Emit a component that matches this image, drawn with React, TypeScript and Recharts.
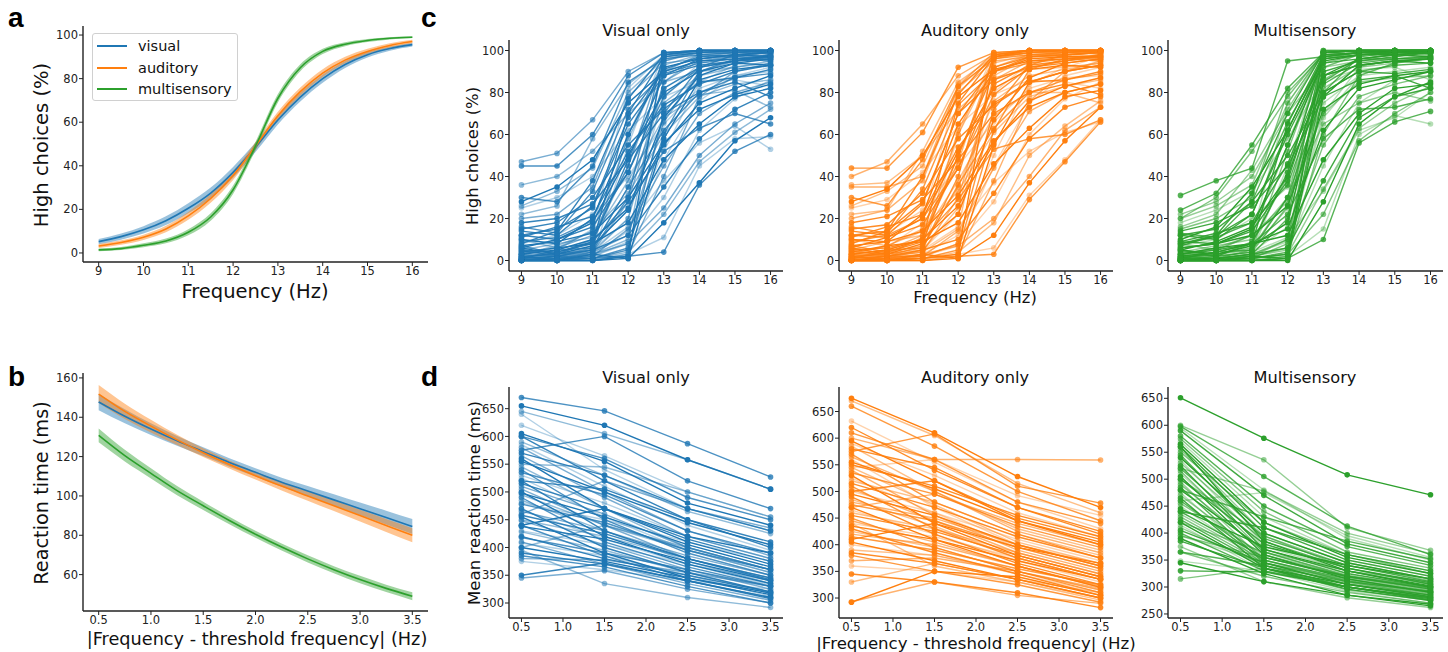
import React from "react";
import { ComposedChart, LineChart, Line, Area, XAxis, YAxis } from "recharts";

const FONT = '"DejaVu Sans", sans-serif';
const BLUE = "#1f77b4";
const ORANGE = "#ff7f0e";
const GREEN = "#2ca02c";
const INK = "#222";

// ---- panel a: fitted psychometric curves (mean + band half-width)
const freqFine = [9, 9.5, 10, 10.5, 11, 11.5, 12, 12.5, 13, 13.5, 14, 14.5, 15, 15.5, 16];
const psyVisual = [5.2, 7.5, 10.6, 14.8, 20.5, 27.5, 37, 48.5, 61, 71.5, 80, 86.5, 91, 93.8, 95.6];
const psyVisualErr = [1.2, 1.4, 1.7, 2.0, 2.3, 2.5, 2.5, 2.2, 2.0, 2.0, 1.9, 1.6, 1.3, 1.0, 0.9];
const psyAuditory = [3.2, 4.8, 7.2, 11, 17, 25, 35.5, 49, 63, 74, 82.5, 88.5, 92.5, 95.2, 97];
const psyAuditoryErr = [0.9, 1.0, 1.2, 1.5, 1.8, 2.0, 2.0, 1.8, 1.8, 1.9, 1.8, 1.5, 1.2, 1.0, 0.8];
const psyMulti = [1.4, 2.0, 3.5, 5.5, 9.5, 16.5, 29, 49, 71, 85, 92.5, 95.8, 97.5, 98.5, 99];
const psyMultiErr = [0.6, 0.7, 0.9, 1.1, 1.4, 1.7, 1.9, 1.9, 1.9, 1.6, 1.2, 0.9, 0.7, 0.5, 0.4];
const legendNames = ["visual", "auditory", "multisensory"];

// ---- panel b: fitted reaction time curves
const distFine = [0.5, 0.75, 1, 1.25, 1.5, 1.75, 2, 2.25, 2.5, 2.75, 3, 3.25, 3.5];
const rtVisual = [147.8, 140.5, 134, 128, 122.5, 117, 112, 107, 102.5, 98, 93.5, 89, 84.5];
const rtVisualErr = [4.2, 3.6, 3.0, 2.5, 2.2, 2.1, 2.1, 2.3, 2.6, 2.9, 3.2, 3.5, 3.8];
const rtAuditory = [151.8, 143, 135.5, 128.5, 122, 116, 110.3, 105, 100, 95, 90, 85, 80];
const rtAuditoryErr = [4.6, 3.9, 3.2, 2.6, 2.2, 2.0, 2.0, 2.2, 2.4, 2.7, 3.0, 3.3, 3.6];
const rtMulti = [130.8, 120.5, 111.5, 102.7, 95, 87.5, 80.5, 74, 68, 62.5, 57.5, 53, 49];
const rtMultiErr = [3.5, 3.0, 2.6, 2.3, 2.1, 1.9, 1.8, 1.8, 1.8, 1.8, 1.9, 1.9, 2.0];

// ---- panel c: per-subject high choices (%) at 9..16 Hz
const freqs = [9, 10, 11, 12, 13, 14, 15, 16];
const choiceVisual = [
  [0, 0, 0, 2, 98, 100, 100, 100], [1, 2, 3, 10, 95, 100, 100, 100], [2, 3, 5, 30, 99, 100, 100, 100],
  [0, 1, 2, 55, 99, 100, 100, 99], [5, 4, 8, 70, 97, 99, 100, 100], [3, 6, 12, 45, 90, 98, 97, 99],
  [10, 8, 20, 60, 92, 96, 98, 97], [1, 0, 4, 20, 85, 97, 99, 100], [0, 2, 1, 5, 70, 92, 98, 99],
  [4, 5, 15, 82, 98, 99, 100, 100], [12, 15, 25, 65, 88, 93, 95, 96], [20, 22, 35, 78, 94, 96, 97, 96],
  [6, 10, 18, 50, 80, 90, 94, 93], [2, 3, 6, 35, 75, 88, 92, 95], [30, 28, 45, 85, 96, 98, 99, 99],
  [8, 12, 22, 40, 65, 82, 88, 90], [15, 18, 30, 55, 72, 85, 87, 91], [0, 0, 2, 15, 45, 70, 80, 85],
  [3, 5, 10, 25, 55, 75, 82, 88], [36, 40, 52, 70, 85, 90, 92, 94], [45, 45, 60, 88, 99, 100, 100, 100],
  [25, 30, 40, 62, 78, 85, 86, 83], [1, 2, 5, 12, 35, 58, 72, 80], [0, 1, 3, 8, 25, 50, 65, 75],
  [4, 6, 8, 18, 48, 65, 78, 82], [10, 6, 14, 32, 60, 78, 84, 86], [0, 1, 1, 2, 4, 36, 52, 60],
  [0, 0, 1, 3, 11, 45, 58, 59], [18, 20, 27, 48, 70, 80, 85, 78], [47, 51, 67, 90, 99, 100, 100, 100],
  [28, 35, 48, 75, 90, 95, 96, 97], [5, 8, 11, 38, 68, 79, 81, 73], [7, 3, 9, 28, 52, 63, 70, 65],
  [1, 3, 4, 16, 38, 56, 64, 53], [12, 10, 16, 42, 82, 92, 95, 98], [3, 2, 6, 60, 95, 99, 99, 100],
  [0, 0, 0, 1, 18, 37, 57, 68], [22, 26, 58, 84, 97, 99, 100, 100],
  [0, 0, 1, 6, 60, 90, 96, 98], [2, 1, 3, 14, 52, 85, 93, 97], [1, 4, 9, 48, 88, 96, 98, 99],
  [0, 0, 0, 3, 40, 78, 90, 94], [6, 3, 7, 24, 68, 88, 94, 96], [3, 7, 14, 58, 93, 98, 99, 100],
  [9, 11, 19, 42, 78, 92, 95, 97], [0, 1, 2, 9, 30, 62, 77, 86], [14, 12, 26, 68, 91, 97, 98, 99],
  [5, 2, 4, 28, 85, 95, 97, 98], [2, 0, 3, 1, 58, 86, 91, 93], [26, 33, 44, 80, 96, 99, 99, 100],
  [1, 5, 6, 35, 62, 80, 87, 89], [0, 2, 5, 20, 78, 94, 97, 100], [11, 16, 21, 52, 74, 84, 90, 93],
  [4, 3, 10, 45, 97, 100, 100, 100], [7, 9, 13, 30, 56, 72, 79, 84], [0, 0, 1, 4, 22, 47, 61, 72],
  [16, 13, 33, 72, 89, 94, 96, 95], [3, 1, 2, 8, 48, 76, 88, 92], [8, 14, 38, 77, 98, 100, 100, 100],
  [1, 1, 4, 12, 66, 90, 95, 97],
];
const choiceAuditory = [
  [0, 0, 1, 3, 97, 100, 100, 100], [1, 2, 4, 15, 96, 100, 100, 100], [2, 3, 6, 40, 98, 100, 100, 100],
  [0, 1, 3, 60, 99, 100, 100, 99], [5, 6, 10, 75, 97, 99, 100, 100], [3, 5, 12, 50, 92, 98, 98, 99],
  [10, 9, 22, 65, 90, 96, 97, 97], [1, 1, 5, 25, 88, 97, 99, 100], [0, 2, 2, 8, 72, 93, 98, 99],
  [4, 6, 18, 84, 98, 100, 100, 100], [12, 14, 28, 70, 86, 92, 94, 96], [20, 24, 38, 80, 95, 97, 97, 96],
  [6, 11, 20, 52, 82, 91, 93, 92], [2, 4, 7, 35, 76, 88, 91, 94], [30, 26, 48, 83, 96, 98, 99, 99],
  [8, 13, 24, 45, 66, 82, 87, 88], [15, 17, 32, 58, 74, 85, 86, 90], [0, 0, 2, 14, 44, 71, 80, 84],
  [3, 5, 10, 26, 56, 76, 83, 87], [36, 37, 50, 72, 87, 91, 92, 94], [44, 44, 61, 92, 99, 100, 100, 100],
  [25, 29, 42, 64, 79, 86, 85, 82], [1, 2, 5, 10, 32, 58, 73, 78], [0, 1, 3, 7, 20, 40, 62, 73],
  [4, 7, 9, 18, 46, 63, 78, 81], [10, 7, 15, 33, 61, 78, 83, 86], [0, 1, 1, 2, 3, 29, 47, 66],
  [0, 0, 1, 3, 6, 31, 48, 67], [18, 21, 29, 48, 70, 80, 84, 79], [40, 47, 65, 88, 98, 100, 100, 100],
  [28, 34, 50, 78, 91, 95, 96, 97], [5, 9, 12, 38, 69, 80, 80, 75], [7, 4, 10, 29, 53, 58, 60, 67],
  [1, 3, 5, 16, 37, 52, 61, 66], [12, 11, 17, 44, 84, 93, 95, 98], [3, 2, 7, 62, 96, 99, 99, 100],
  [0, 0, 0, 1, 12, 37, 57, 73], [22, 24, 52, 85, 97, 99, 100, 100],
  [0, 0, 1, 5, 62, 91, 96, 98], [2, 1, 3, 12, 50, 84, 92, 97], [1, 4, 9, 50, 90, 97, 98, 99],
  [0, 0, 0, 2, 38, 76, 90, 95], [6, 3, 8, 22, 67, 87, 94, 96], [3, 7, 14, 60, 94, 98, 99, 100],
  [9, 12, 20, 44, 79, 92, 95, 97], [0, 1, 2, 8, 28, 60, 77, 85], [14, 12, 27, 70, 92, 97, 98, 99],
  [5, 2, 4, 30, 86, 95, 97, 98], [2, 0, 3, 1, 55, 85, 90, 93], [26, 33, 45, 82, 97, 99, 99, 100],
  [1, 5, 6, 36, 63, 80, 86, 89], [0, 2, 5, 22, 80, 94, 97, 100], [11, 16, 22, 54, 75, 85, 90, 93],
  [4, 3, 11, 47, 97, 100, 100, 100], [7, 9, 14, 31, 57, 73, 80, 84], [0, 0, 1, 4, 18, 50, 64, 76],
  [16, 13, 34, 74, 90, 94, 96, 95], [3, 1, 2, 7, 45, 75, 88, 92], [8, 14, 40, 79, 98, 100, 100, 100],
  [35, 35, 40, 83, 99, 100, 100, 100],
];
const choiceMulti = [
  [0, 0, 0, 1, 99, 100, 100, 100], [1, 1, 2, 5, 99, 100, 100, 100], [0, 1, 3, 20, 100, 100, 100, 100],
  [2, 2, 4, 45, 99, 100, 100, 99], [3, 5, 8, 65, 98, 99, 100, 100], [1, 3, 6, 30, 96, 99, 99, 99],
  [6, 8, 15, 55, 95, 98, 98, 97], [0, 0, 2, 10, 92, 98, 99, 100], [0, 1, 1, 3, 85, 96, 98, 99],
  [4, 5, 12, 75, 99, 100, 100, 100], [8, 12, 22, 60, 94, 96, 96, 96], [15, 20, 30, 80, 98, 99, 99, 98],
  [5, 9, 16, 40, 88, 93, 95, 94], [2, 3, 5, 25, 82, 92, 94, 96], [24, 32, 55, 82, 99, 100, 100, 100],
  [7, 10, 20, 35, 75, 88, 90, 92], [12, 15, 28, 50, 80, 90, 89, 91], [0, 0, 1, 8, 55, 78, 84, 88],
  [2, 4, 8, 15, 62, 82, 86, 90], [22, 28, 40, 70, 92, 95, 96, 97], [31, 38, 44, 95, 97, 99, 100, 100],
  [18, 24, 33, 58, 86, 91, 92, 86], [1, 1, 3, 6, 38, 68, 78, 82], [0, 0, 1, 3, 22, 57, 70, 80],
  [3, 6, 8, 12, 48, 70, 82, 84], [8, 5, 12, 28, 70, 85, 87, 88], [0, 0, 0, 1, 10, 56, 66, 71],
  [0, 1, 1, 2, 15, 60, 69, 65], [14, 18, 26, 45, 78, 86, 88, 82], [20, 30, 52, 78, 99, 100, 100, 100],
  [10, 16, 35, 62, 96, 98, 99, 99], [4, 7, 10, 30, 65, 75, 80, 76], [5, 2, 8, 22, 58, 72, 73, 77],
  [1, 2, 4, 11, 33, 62, 68, 80], [9, 8, 14, 38, 90, 95, 97, 99], [2, 1, 5, 52, 98, 99, 100, 100],
  [0, 0, 0, 0, 28, 65, 78, 85], [16, 22, 43, 72, 99, 100, 100, 100],
  [0, 0, 1, 4, 80, 97, 99, 100], [2, 1, 3, 9, 70, 92, 96, 98], [1, 4, 8, 42, 97, 99, 100, 100],
  [0, 0, 0, 2, 60, 88, 94, 97], [5, 3, 7, 18, 88, 96, 98, 99], [3, 6, 12, 55, 99, 100, 100, 100],
  [8, 11, 18, 36, 84, 94, 96, 97], [0, 1, 2, 6, 45, 75, 86, 90], [12, 10, 22, 62, 97, 99, 99, 100],
  [4, 2, 4, 26, 94, 98, 99, 99], [1, 0, 2, 1, 78, 93, 95, 96], [20, 26, 36, 75, 99, 100, 100, 100],
  [1, 4, 5, 30, 80, 90, 93, 94], [0, 2, 4, 16, 92, 98, 99, 100], [9, 13, 18, 46, 88, 93, 95, 96],
  [3, 2, 9, 40, 100, 100, 100, 100], [6, 8, 12, 26, 72, 84, 88, 90], [0, 0, 1, 3, 34, 63, 75, 83],
  [13, 11, 28, 66, 96, 98, 99, 99], [2, 1, 2, 6, 68, 88, 94, 96], [7, 12, 32, 70, 99, 100, 100, 100],
  [1, 1, 3, 10, 86, 96, 98, 99],
];

// ---- panel d: per-subject mean reaction time (ms) at |f - threshold| = 0.5..3.5 Hz
const dists = [0.5, 1.5, 2.5, 3.5];
const rtSubjVisual = [
  [655, 620, 558, 505], [645, 605, 558, 505], [670, 646, 587, 527], [640, 540, 470, 430],
  [600, 520, 450, 400], [580, 500, 430, 385], [560, 470, 410, 370], [550, 545, 500, 455],
  [540, 450, 390, 350], [530, 480, 420, 380], [520, 430, 380, 345], [510, 460, 400, 360],
  [500, 420, 370, 335], [495, 440, 395, 355], [490, 410, 365, 330], [480, 450, 410, 375],
  [470, 400, 355, 320], [465, 430, 385, 350], [455, 390, 345, 315], [450, 420, 380, 345],
  [440, 385, 340, 310], [430, 405, 370, 340], [420, 380, 350, 320], [410, 370, 335, 305],
  [400, 375, 345, 318], [395, 335, 310, 292], [385, 365, 330, 300], [375, 360, 340, 325],
  [350, 372, 340, 310], [345, 358, 325, 300], [605, 555, 480, 440], [590, 530, 465, 425],
  [575, 600, 520, 470], [620, 565, 500, 455], [520, 505, 450, 410], [460, 520, 470, 435],
  [440, 470, 420, 390], [400, 440, 400, 360],
  [600, 560, 490, 450], [585, 510, 440, 395], [570, 530, 470, 430], [565, 490, 420, 380],
  [555, 500, 445, 405], [545, 470, 400, 360], [535, 495, 430, 390], [525, 455, 395, 355],
  [515, 470, 415, 375], [505, 440, 380, 340], [498, 455, 405, 365], [485, 430, 375, 335],
  [478, 445, 395, 360], [468, 415, 370, 332], [458, 425, 380, 342], [448, 405, 360, 325],
  [438, 415, 375, 340], [428, 395, 355, 318], [418, 390, 360, 330], [408, 385, 350, 312],
  [390, 370, 340, 308], [380, 378, 355, 330],
];
const rtSubjAuditory = [
  [675, 610, 528, 470], [670, 605, 515, 460], [660, 585, 500, 445], [632, 555, 480, 430],
  [620, 540, 470, 420], [600, 560, 560, 559], [595, 520, 445, 400], [585, 500, 430, 390],
  [570, 480, 420, 375], [560, 470, 400, 365], [550, 510, 455, 415], [540, 455, 390, 350],
  [530, 440, 380, 340], [520, 480, 420, 380], [510, 430, 375, 335], [500, 460, 410, 370],
  [490, 420, 365, 325], [480, 450, 400, 360], [470, 410, 360, 320], [460, 430, 385, 345],
  [450, 395, 350, 310], [440, 415, 375, 335], [430, 385, 345, 305], [420, 400, 360, 322],
  [405, 370, 335, 300], [390, 380, 350, 315], [380, 350, 325, 292], [360, 350, 330, 300],
  [345, 330, 310, 282], [293, 330, 305, 290], [292, 350, 340, 305], [330, 365, 335, 310],
  [575, 608, 510, 478], [545, 560, 492, 455], [500, 520, 450, 410], [470, 495, 440, 400],
  [410, 440, 395, 365], [440, 360, 330, 296],
  [610, 560, 480, 440], [590, 530, 460, 415], [580, 545, 470, 425], [565, 500, 425, 385],
  [555, 505, 445, 405], [545, 475, 405, 365], [535, 495, 435, 395], [525, 460, 395, 355],
  [515, 470, 415, 375], [505, 445, 385, 345], [495, 455, 400, 360], [485, 435, 375, 335],
  [475, 445, 395, 355], [465, 420, 370, 330], [455, 425, 380, 340], [445, 405, 360, 320],
  [435, 410, 370, 335], [425, 395, 350, 315], [415, 390, 355, 325], [400, 380, 345, 310],
  [385, 365, 335, 300], [370, 375, 350, 318],
];
const rtSubjMulti = [
  [651, 576, 508, 471], [600, 536, 410, 368], [598, 505, 413, 360], [595, 480, 390, 350],
  [590, 470, 380, 345], [575, 440, 365, 335], [565, 420, 355, 325], [555, 400, 345, 315],
  [545, 390, 340, 310], [535, 380, 330, 305], [525, 370, 325, 300], [515, 365, 320, 295],
  [505, 360, 315, 290], [495, 350, 310, 285], [485, 345, 305, 282], [475, 340, 300, 278],
  [465, 335, 296, 275], [455, 360, 320, 300], [445, 375, 340, 315], [435, 350, 312, 290],
  [425, 340, 300, 280], [415, 330, 292, 270], [405, 345, 305, 285], [395, 355, 318, 298],
  [390, 325, 285, 265], [375, 310, 280, 262], [365, 340, 310, 292], [348, 330, 300, 278],
  [330, 328, 300, 280], [315, 335, 295, 275], [345, 310, 285, 268], [520, 478, 400, 362],
  [480, 430, 385, 352], [460, 475, 395, 355], [440, 410, 360, 330], [500, 395, 335, 305],
  [560, 385, 330, 300], [420, 365, 330, 310],
  [580, 450, 375, 340], [570, 430, 360, 330], [560, 410, 350, 320], [550, 420, 360, 325],
  [540, 400, 345, 315], [530, 395, 340, 312], [520, 385, 335, 305], [510, 375, 330, 300],
  [500, 380, 335, 308], [490, 365, 322, 298], [480, 370, 330, 302], [470, 355, 318, 292],
  [460, 350, 315, 290], [450, 345, 310, 286], [440, 355, 320, 296], [430, 345, 312, 288],
  [420, 335, 305, 282], [410, 340, 308, 285], [400, 330, 300, 278], [395, 345, 315, 292],
  [385, 335, 300, 276], [365, 320, 290, 270],
];

const pctTicks = [0, 20, 40, 60, 80, 100];
const distTicks = [0.5, 1, 1.5, 2, 2.5, 3, 3.5];
const rtTicksB = [60, 80, 100, 120, 140, 160];
const rtTicksD = [300, 350, 400, 450, 500, 550, 600, 650];
const rtTicksD3 = [250, 300, 350, 400, 450, 500, 550, 600, 650];

const axisProps = {
  axisLine: { stroke: INK, strokeWidth: 1.4 },
  tickLine: { stroke: INK, strokeWidth: 1 },
  tickSize: 4,
  tickMargin: 1,
  tick: { fill: INK, fontSize: 11.5, fontFamily: FONT },
  interval: 0 as const,
  allowDataOverflow: true,
};
const fmt1 = (v: number) => v.toFixed(1);
const opacities = [1, 0.5, 0.8, 0.35, 0.9, 0.6];

function Txt({ x, y, size, rot, children }: any) {
  return (
    <div
      style={{
        position: "absolute", left: x, top: y, whiteSpace: "nowrap",
        transform: `translate(-50%, -50%)${rot ? " rotate(-90deg)" : ""}`,
        fontSize: size, fontFamily: FONT, color: "#111", lineHeight: 1,
      }}
    >
      {children}
    </div>
  );
}

function Letter({ x, baseline, ch }: { x: number; baseline: number; ch: string }) {
  return (
    <div style={{ position: "absolute", left: x, top: baseline - 24, fontSize: 28, lineHeight: "28px",
      fontFamily: '"Liberation Sans", Arial, sans-serif', fontWeight: 700, color: "#000" }}>
      {ch}
    </div>
  );
}

function FitPanel({ box, xs, series, xDomain, xTicks, yDomain, yTicks, fmt }: any) {
  const rows = xs.map((x: number, j: number) => {
    const r: any = { x };
    series.forEach((s: any, i: number) => {
      r["m" + i] = s.mean[j];
      r["b" + i] = [s.mean[j] - s.err[j], s.mean[j] + s.err[j]];
    });
    return r;
  });
  const w = box.right - box.left + 70;
  const h = box.bottom - box.top + 40;
  return (
    <div style={{ position: "absolute", left: box.left - 60, top: box.top - 10 }}>
      <ComposedChart width={w} height={h} data={rows} margin={{ top: 10, right: 10, left: 0, bottom: 0 }}>
        <XAxis dataKey="x" type="number" domain={xDomain} ticks={xTicks} height={30} tickFormatter={fmt} {...axisProps} />
        <YAxis type="number" domain={yDomain} ticks={yTicks} width={60} {...axisProps} />
        {series.map((s: any, i: number) => (
          <Area key={"b" + i} dataKey={"b" + i} type="monotone" stroke="none" fill={s.color}
            fillOpacity={0.45} isAnimationActive={false} activeDot={false} />
        ))}
        {series.map((s: any, i: number) => (
          <Line key={"m" + i} dataKey={"m" + i} type="monotone" stroke={s.color} strokeWidth={1.6}
            dot={false} activeDot={false} isAnimationActive={false} />
        ))}
      </ComposedChart>
    </div>
  );
}

function SubjectPanel({ box, xs, subjects, color, xDomain, xTicks, yDomain, yTicks, fmt }: any) {
  const rows = xs.map((x: number, j: number) => {
    const r: any = { x };
    subjects.forEach((s: number[], i: number) => (r["s" + i] = s[j]));
    return r;
  });
  const w = box.right - box.left + 70;
  const h = box.bottom - box.top + 40;
  return (
    <div style={{ position: "absolute", left: box.left - 60, top: box.top - 10 }}>
      <LineChart width={w} height={h} data={rows} margin={{ top: 10, right: 10, left: 0, bottom: 0 }}>
        <XAxis dataKey="x" type="number" domain={xDomain} ticks={xTicks} height={30} tickFormatter={fmt} {...axisProps} />
        <YAxis type="number" domain={yDomain} ticks={yTicks} width={60} {...axisProps} />
        {subjects.map((_: any, i: number) => {
          const op = opacities[i % opacities.length];
          return (
            <Line key={i} dataKey={"s" + i} type="linear" stroke={color} strokeOpacity={op} strokeWidth={1.4}
              dot={{ r: 2.8, fill: color, fillOpacity: op, stroke: "none" }} activeDot={false}
              isAnimationActive={false} />
          );
        })}
      </LineChart>
    </div>
  );
}

function LegendBox() {
  const colors = [BLUE, ORANGE, GREEN];
  return (
    <div style={{ position: "absolute", left: 92, top: 33, width: 146, height: 68, boxSizing: "border-box",
      border: "1px solid #d0d0d0", borderRadius: 3, background: "rgba(255,255,255,0.85)" }}>
      {legendNames.map((n, i) => (
        <div key={n} style={{ position: "absolute", left: 4, top: 2 + i * 21.5, height: 20, display: "flex", alignItems: "center" }}>
          <div style={{ width: 30, height: 2, background: colors[i] }} />
          <span style={{ marginLeft: 11, fontSize: 14.5, fontFamily: FONT, color: "#111" }}>{n}</span>
        </div>
      ))}
    </div>
  );
}

export default function App() {
  const boxA = { left: 83, right: 428, top: 26, bottom: 262 };
  const boxB = { left: 83, right: 428, top: 373, bottom: 611 };
  const cTop = 40, cBottom = 271, dTop = 387, dBottom = 618;
  const cols = [
    { left: 509, right: 783 },
    { left: 839, right: 1113 },
    { left: 1168, right: 1443 },
  ];
  const freqDomain = [8.65, 16.35];
  const distDomain = [0.35, 3.65];
  return (
    <div style={{ position: "absolute", left: 0, top: 0, width: 1448, height: 652, background: "#fff", overflow: "hidden" }}>
      <Letter x={8} baseline={28} ch="a" />
      <Letter x={421} baseline={28} ch="c" />
      <Letter x={8} baseline={387} ch="b" />
      <Letter x={421} baseline={387} ch="d" />

      <FitPanel box={boxA} xs={freqFine} xDomain={freqDomain} xTicks={freqs} yDomain={[-4.15, 104.15]} yTicks={pctTicks}
        series={[
          { mean: psyVisual, err: psyVisualErr, color: BLUE },
          { mean: psyAuditory, err: psyAuditoryErr, color: ORANGE },
          { mean: psyMulti, err: psyMultiErr, color: GREEN },
        ]} />
      <LegendBox />
      <Txt x={42} y={145} size={19.5} rot>High choices (%)</Txt>
      <Txt x={255} y={292} size={19.5}>Frequency (Hz)</Txt>

      <FitPanel box={boxB} xs={distFine} xDomain={distDomain} xTicks={distTicks} fmt={fmt1} yDomain={[41.5, 162.5]} yTicks={rtTicksB}
        series={[
          { mean: rtVisual, err: rtVisualErr, color: BLUE },
          { mean: rtAuditory, err: rtAuditoryErr, color: ORANGE },
          { mean: rtMulti, err: rtMultiErr, color: GREEN },
        ]} />
      <Txt x={42} y={493} size={19.3} rot>Reaction time (ms)</Txt>
      <Txt x={257} y={640} size={17.7}>|Frequency - threshold frequency| (Hz)</Txt>

      {[choiceVisual, choiceAuditory, choiceMulti].map((subs, k) => (
        <SubjectPanel key={"c" + k} box={{ ...cols[k], top: cTop, bottom: cBottom }} xs={freqs} subjects={subs}
          color={[BLUE, ORANGE, GREEN][k]} xDomain={freqDomain} xTicks={freqs} yDomain={[-5, 105]} yTicks={pctTicks} />
      ))}
      <Txt x={646} y={31} size={16.2}>Visual only</Txt>
      <Txt x={975} y={31} size={16.2}>Auditory only</Txt>
      <Txt x={1305} y={31} size={16.2}>Multisensory</Txt>
      <Txt x={473} y={156} size={16.4} rot>High choices (%)</Txt>
      <Txt x={975} y={298} size={16.4}>Frequency (Hz)</Txt>

      <SubjectPanel box={{ ...cols[0], top: dTop, bottom: dBottom }} xs={dists} subjects={rtSubjVisual} color={BLUE}
        xDomain={distDomain} xTicks={distTicks} fmt={fmt1} yDomain={[273, 689]} yTicks={rtTicksD} />
      <SubjectPanel box={{ ...cols[1], top: dTop, bottom: dBottom }} xs={dists} subjects={rtSubjAuditory} color={ORANGE}
        xDomain={distDomain} xTicks={distTicks} fmt={fmt1} yDomain={[262.5, 696]} yTicks={rtTicksD} />
      <SubjectPanel box={{ ...cols[2], top: dTop, bottom: dBottom }} xs={dists} subjects={rtSubjMulti} color={GREEN}
        xDomain={distDomain} xTicks={distTicks} fmt={fmt1} yDomain={[242.5, 671]} yTicks={rtTicksD3} />
      <Txt x={646} y={378} size={16.2}>Visual only</Txt>
      <Txt x={975} y={378} size={16.2}>Auditory only</Txt>
      <Txt x={1305} y={378} size={16.2}>Multisensory</Txt>
      <Txt x={475} y={503} size={16.6} rot>Mean reaction time (ms)</Txt>
      <Txt x={976} y={644} size={16.6}>|Frequency - threshold frequency| (Hz)</Txt>
    </div>
  );
}
